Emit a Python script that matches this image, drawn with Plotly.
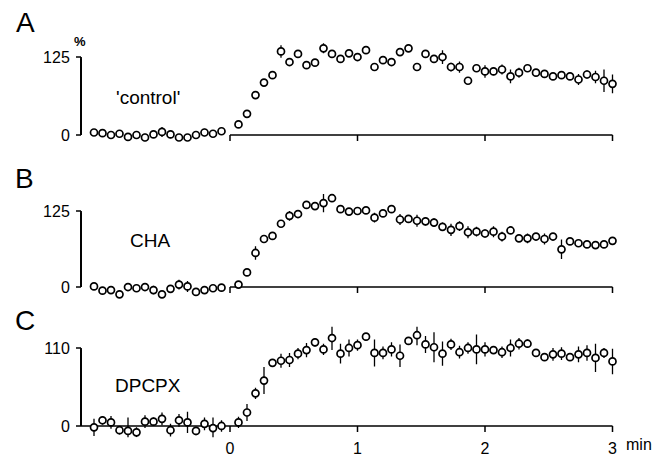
import plotly.graph_objects as go

# ---------------- data (time in s, values in %) ----------------
t_pre = [-64, -60, -56, -52, -48, -44, -40, -36, -32, -28, -24, -20, -16, -12, -8, -4]
t_post = list(range(4, 181, 4))
times = t_pre + t_post

A_vals = [4, 3, 0, 2, -3, 0, -4, 1, 5, 1, -4, -4, 0, 4, 2, 6] + \
         [17, 34, 64, 84, 96, 134, 117, 130, 112, 116, 139, 130, 122, 131, 125,
          136, 109, 120, 117, 133, 139, 109, 130, 122, 125, 109, 109, 87, 107, 102,
          102, 105, 94, 100, 107, 100, 98, 94, 96, 94, 89, 97, 93, 87, 82]
A_err = [4, 3, 3, 4, 6, 4, 6, 4, 8, 6, 4, 4, 4, 6, 5, 4] + \
        [3, 3, 3, 3, 4, 10, 4, 4, 4, 4, 8, 4, 4, 4, 4, 6, 3, 4, 4, 4, 6, 4, 4, 4, 11,
         7, 9, 3, 5, 10, 6, 8, 11, 8, 5, 5, 5, 6, 6, 6, 9, 7, 10, 18, 15]

B_vals = [1, -6, -5, -12, 0, -2, 0, -5, -12, -3, 4, 1, -8, -5, -2, -1] + \
         [4, 24, 56, 79, 84, 104, 117, 120, 135, 133, 138, 146, 128, 124, 125,
          126, 114, 121, 128, 111, 112, 109, 108, 106, 99, 94, 100, 90, 91, 88,
          91, 83, 93, 80, 80, 83, 79, 83, 62, 75, 72, 70, 69, 70, 76]
B_err = [3, 5, 6, 6, 3, 4, 4, 7, 5, 4, 8, 9, 5, 4, 3, 3] + \
        [3, 5, 11, 5, 5, 5, 8, 5, 6, 6, 15, 5, 4, 6, 4, 4, 8, 6, 4, 9, 6, 10, 7, 7, 7,
         10, 8, 10, 8, 7, 9, 8, 6, 6, 8, 6, 9, 6, 16, 5, 5, 5, 6, 6, 5]

C_vals = [-2, 8, 5, -6, -7, -9, 6, 6, 10, -6, 8, 5, -7, 3, -3, 0] + \
         [5, 19, 46, 64, 89, 92, 93, 102, 107, 118, 108, 124, 102, 110, 114,
          126, 103, 103, 108, 99, 120, 128, 115, 111, 102, 115, 104, 110, 108, 108,
          107, 104, 110, 116, 116, 103, 97, 101, 102, 97, 101, 103, 96, 103, 91]
C_err = [12, 6, 9, 6, 19, 7, 9, 6, 9, 9, 9, 15, 6, 9, 15, 8] + \
        [8, 12, 8, 19, 5, 10, 10, 8, 10, 6, 8, 17, 14, 12, 8, 5, 19, 9, 10, 16, 5, 14, 12, 21, 17,
         8, 9, 8, 21, 10, 5, 8, 12, 8, 6, 4, 4, 9, 9, 5, 11, 11, 20, 7, 18]

panel_letters = ["A", "B", "C"]
panel_labels = ["'control'", "CHA", "DPCPX"]
y_tops = [125, 125, 110]
x_ticks = [0, 1, 2, 3]

# ---------------- figure ----------------
W, H = 662, 458
FONT = "Liberation Sans, Arial, Helvetica, sans-serif"
minutes = [t / 60 for t in times]

x_left_px, x_zero_px, px_per_min, x_right_px = 76, 230, 127.5, 625
xr = [(x_left_px - x_zero_px) / px_per_min, (x_right_px - x_zero_px) / px_per_min]
xdom = [x_left_px / W, x_right_px / W]
x_bar_px = 81
x_bar = (x_bar_px - x_zero_px) / px_per_min   # position of the vertical scale bar

fig = go.Figure()
series = [(A_vals, A_err), (B_vals, B_err), (C_vals, C_err)]
for i, (vals, errs) in enumerate(series):
    sfx = "" if i == 0 else str(i + 1)
    # vertical scale bar spanning the two labelled ticks
    fig.add_trace(go.Scatter(
        x=[x_bar, x_bar], y=[0, y_tops[i]], mode="lines", xaxis="x" + sfx, yaxis="y" + sfx,
        line=dict(color="black", width=1.8), showlegend=False, hoverinfo="skip"))
    fig.add_trace(go.Scatter(
        x=minutes, y=vals, mode="markers", xaxis="x" + sfx, yaxis="y" + sfx,
        marker=dict(symbol="circle", size=7, color="white",
                    line=dict(color="black", width=1.7)),
        error_y=dict(type="data", array=errs, symmetric=True, color="black",
                     thickness=1.3, width=0),
        cliponaxis=False, showlegend=False, hoverinfo="skip"))

# y ranges and pixel extents (top, bottom) for each panel
y_ranges = [[-12, 152], [-20, 160], [-16, 140]]
y_px = [(40.2, 142.5), (189.7, 299.2), (326.7, 437.3)]

layout = dict(width=W, height=H, margin=dict(l=0, r=0, t=0, b=0),
              paper_bgcolor="white", plot_bgcolor="white",
              font=dict(family=FONT, color="black"), showlegend=False)
shapes = []
annotations = []
for i in range(3):
    sfx = "" if i == 0 else str(i + 1)
    top, bot = y_px[i]
    ydom = [(H - bot) / H, (H - top) / H]
    layout["xaxis" + sfx] = dict(
        domain=xdom, range=xr, anchor="y" + sfx, showgrid=False, zeroline=False,
        showline=False, ticks="", tickvals=x_ticks,
        ticktext=[str(v) for v in x_ticks], showticklabels=(i == 2),
        tickfont=dict(size=16, family=FONT, color="black"))
    layout["yaxis" + sfx] = dict(
        domain=ydom, range=y_ranges[i], anchor="x" + sfx,
        showgrid=False, zeroline=False, showline=False, ticks="outside", ticklen=2,
        tickcolor="rgba(0,0,0,0)", tickvals=[0, y_tops[i]],
        tickfont=dict(size=16, family=FONT, color="black"))
    xref, yref = "x" + sfx, "y" + sfx

    # scale bar as an arrow-less annotation line (drawn in the top info layer)
    annotations.append(dict(x=x_bar, y=0, xref=xref, yref=yref,
                            ax=x_bar, ay=y_tops[i], axref=xref, ayref=yref,
                            text="", showarrow=True, arrowhead=0, arrowwidth=1.8,
                            arrowcolor="black", standoff=0, startstandoff=0))
    # y tick marks pointing left from the scale bar
    for yv in [0, y_tops[i]]:
        shapes.append(dict(type="line", xref=xref, yref=yref, xsizemode="pixel", xanchor=x_bar,
                           x0=-5, x1=0, y0=yv, y1=yv,
                           line=dict(color="black", width=1.6), layer="below"))
    # baseline
    x0 = x_bar if i == 2 else 0
    shapes.append(dict(type="line", xref=xref, yref=yref, x0=x0, x1=3, y0=0, y1=0,
                       line=dict(color="black", width=1.5), layer="below"))
    for tv in x_ticks:
        shapes.append(dict(type="line", xref=xref, yref=yref, ysizemode="pixel", yanchor=0,
                           x0=tv, x1=tv, y0=0, y1=-6,
                           line=dict(color="black", width=1.5), layer="below"))

letter_pos = [(25, 22), (24, 178), (25, 320)]
label_pos = [(148, 97), (150, 241), (148, 385)]
for i in range(3):
    lx, ly = letter_pos[i]
    annotations.append(dict(text=panel_letters[i], x=lx / W, y=1 - ly / H, xref="paper",
                            yref="paper", showarrow=False, xanchor="center", yanchor="middle",
                            font=dict(size=28, family=FONT, color="black")))
    tx, ty = label_pos[i]
    annotations.append(dict(text=panel_labels[i], x=tx / W, y=1 - ty / H, xref="paper",
                            yref="paper", showarrow=False, xanchor="center", yanchor="middle",
                            font=dict(size=19, family=FONT, color="black")))
annotations.append(dict(text="<b>%</b>", x=80 / W, y=1 - 41 / H, xref="paper", yref="paper",
                        showarrow=False, xanchor="center", yanchor="middle",
                        font=dict(size=13, family=FONT, color="black")))
annotations.append(dict(text="min", x=639 / W, y=1 - 444 / H, xref="paper", yref="paper",
                        showarrow=False, xanchor="center", yanchor="middle",
                        font=dict(size=16, family=FONT, color="black")))
layout["shapes"] = shapes
layout["annotations"] = annotations
fig.update_layout(**layout)
fig.write_html("out.html")
